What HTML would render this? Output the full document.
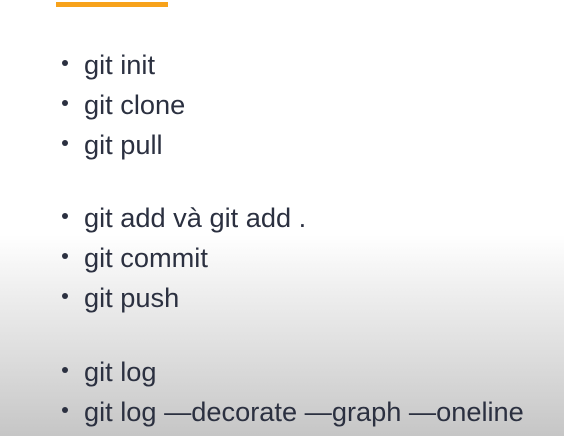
<!DOCTYPE html>
<html><head><style>
html,body{margin:0;padding:0}
body{width:564px;height:436px;position:relative;overflow:hidden;
background:linear-gradient(to bottom,#fff 0,#fff 235px,#ececec 300px,#dcdcdc 360px,#c6c6c6 436px);
font-family:"Liberation Sans","Noto Sans CJK SC",sans-serif;color:#2b3040}
.bar{position:absolute;left:56px;top:2px;width:112px;height:5px;background:#f7a21b}
.l{position:absolute;left:84px;font-size:27.2px;line-height:30px;white-space:nowrap}
.l:before{content:"";position:absolute;left:-22px;top:10px;width:6px;height:6px;border-radius:50%;background:#2b3040}
</style></head><body>
<div class="bar"></div>
<div class="l" style="top:50px">git init</div>
<div class="l" style="top:90px">git clone</div>
<div class="l" style="top:130px">git pull</div>
<div class="l" style="top:203px">git add và git add .</div>
<div class="l" style="top:243px">git commit</div>
<div class="l" style="top:283px">git push</div>
<div class="l" style="top:357px">git log</div>
<div class="l" style="top:397px">git log —decorate —graph —oneline</div>
</body></html>
